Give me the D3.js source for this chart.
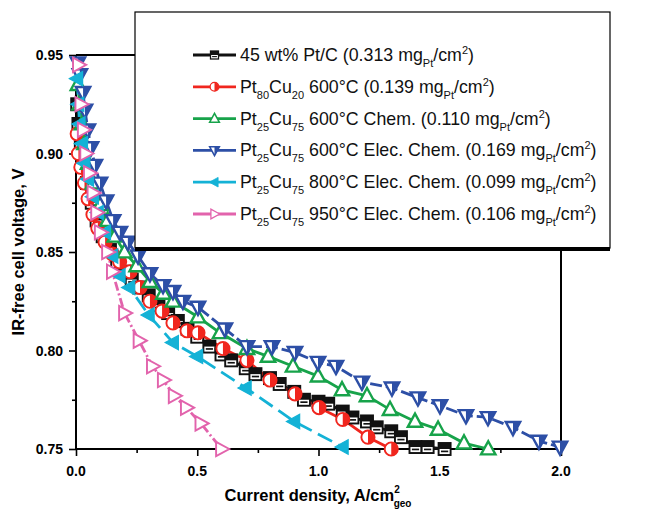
<!DOCTYPE html>
<html>
<head>
<meta charset="utf-8">
<script src="https://cdn.jsdelivr.net/npm/d3@7"></script>
<style>
  body { margin: 0; background: #fff; }
  svg { font-family: "Liberation Sans", Arial, sans-serif; }
</style>
</head>
<body>
<svg id="chart" width="647" height="512"></svg>
<script>
// current density (A/cm2) vs IR-free voltage (V)
const ptc = [[0.005,0.925],[0.01,0.915],[0.02,0.905],[0.03,0.895],[0.045,0.885],[0.065,0.875],[0.085,0.866],[0.11,0.858],[0.14,0.851],[0.17,0.845],[0.20,0.840],[0.23,0.836],[0.26,0.832],[0.30,0.828],[0.34,0.823],[0.38,0.819],[0.42,0.815],[0.46,0.811],[0.50,0.807],[0.55,0.802],[0.60,0.798],[0.64,0.795],[0.70,0.791],[0.74,0.788],[0.80,0.786],[0.84,0.783],[0.90,0.779],[0.94,0.775],[1.00,0.774],[1.04,0.773],[1.10,0.769],[1.14,0.766],[1.20,0.764],[1.24,0.761],[1.30,0.759],[1.34,0.756],[1.40,0.751],[1.45,0.751],[1.52,0.750]];
const pt80 = [[0.005,0.91],[0.01,0.90],[0.02,0.893],[0.035,0.885],[0.05,0.877],[0.07,0.869],[0.09,0.862],[0.12,0.855],[0.15,0.849],[0.18,0.845],[0.223,0.840],[0.264,0.832],[0.305,0.825],[0.355,0.820],[0.40,0.814],[0.458,0.810],[0.503,0.809],[0.606,0.801],[0.705,0.795],[0.80,0.785],[0.903,0.778],[1.002,0.771],[1.10,0.765],[1.204,0.756],[1.30,0.750]];
const chem600 = [[0.008,0.935],[0.015,0.925],[0.025,0.915],[0.035,0.905],[0.05,0.895],[0.07,0.885],[0.10,0.874],[0.13,0.866],[0.16,0.858],[0.20,0.850],[0.25,0.843],[0.305,0.835],[0.36,0.829],[0.40,0.825],[0.503,0.817],[0.594,0.809],[0.705,0.801],[0.792,0.797],[0.895,0.792],[0.998,0.787],[1.097,0.780],[1.20,0.777],[1.295,0.770],[1.398,0.764],[1.493,0.760],[1.60,0.753],[1.70,0.750]];
const elec600 = [[0.008,0.946],[0.016,0.940],[0.029,0.931],[0.037,0.922],[0.049,0.912],[0.062,0.903],[0.078,0.894],[0.099,0.885],[0.124,0.876],[0.153,0.866],[0.181,0.860],[0.214,0.855],[0.256,0.848],[0.305,0.839],[0.359,0.833],[0.40,0.830],[0.441,0.825],[0.503,0.822],[0.614,0.811],[0.705,0.802],[0.808,0.802],[0.903,0.799],[0.998,0.794],[1.072,0.792],[1.179,0.784],[1.303,0.781],[1.41,0.776],[1.501,0.772],[1.608,0.767],[1.699,0.766],[1.802,0.761],[1.909,0.754],[1.996,0.751]];
const elec800 = [[0.005,0.938],[0.01,0.925],[0.015,0.915],[0.025,0.905],[0.035,0.895],[0.05,0.887],[0.07,0.878],[0.09,0.870],[0.12,0.860],[0.15,0.848],[0.18,0.838],[0.22,0.832],[0.30,0.818],[0.40,0.804],[0.50,0.797],[0.70,0.781],[0.90,0.764],[1.10,0.751]];
const elec950 = [[0.01,0.945],[0.02,0.925],[0.03,0.912],[0.04,0.900],[0.055,0.890],[0.07,0.880],[0.085,0.870],[0.10,0.860],[0.13,0.850],[0.15,0.840],[0.20,0.819],[0.26,0.805],[0.315,0.792],[0.36,0.785],[0.405,0.777],[0.455,0.771],[0.515,0.763],[0.60,0.750]];

const xTicks = [0.0, 0.5, 1.0, 1.5, 2.0];
const yTicks = [0.75, 0.80, 0.85, 0.90, 0.95];

// legend labels: [text, "sub" | "sup" | ""]
const legendLabels = [
	[["45 wt% Pt/C (0.313 mg",""],["Pt","sub"],["/cm",""],["2","sup"],[")",""]],
	[["Pt",""],["80","sub"],["Cu",""],["20","sub"],[" 600°C (0.139 mg",""],["Pt","sub"],["/cm",""],["2","sup"],[")",""]],
	[["Pt",""],["25","sub"],["Cu",""],["75","sub"],[" 600°C Chem. (0.110 mg",""],["Pt","sub"],["/cm",""],["2","sup"],[")",""]],
	[["Pt",""],["25","sub"],["Cu",""],["75","sub"],[" 600°C Elec. Chem. (0.169 mg",""],["Pt","sub"],["/cm",""],["2","sup"],[")",""]],
	[["Pt",""],["25","sub"],["Cu",""],["75","sub"],[" 800°C Elec. Chem. (0.099 mg",""],["Pt","sub"],["/cm",""],["2","sup"],[")",""]],
	[["Pt",""],["25","sub"],["Cu",""],["75","sub"],[" 950°C Elec. Chem. (0.106 mg",""],["Pt","sub"],["/cm",""],["2","sup"],[")",""]]
];

const series = [
	{ data: ptc,     color: "#111111", marker: "square", dash: null },
	{ data: pt80,    color: "#f0261e", marker: "circle", dash: null },
	{ data: chem600, color: "#17a34a", marker: "up",     dash: null },
	{ data: elec600, color: "#2d4fa6", marker: "down",   dash: "12,4" },
	{ data: elec800, color: "#14b2d6", marker: "left",   dash: "16,7" },
	{ data: elec950, color: "#e263ac", marker: "right",  dash: "9,3,2,3" }
];

const svg = d3.select("#chart");
const x = d3.scaleLinear().domain([0, 2]).range([76, 561]);
const y = d3.scaleLinear().domain([0.75, 0.95]).range([449, 55]);

// axes
const xAxis = svg.append("g").attr("transform", `translate(0, ${y(0.75)})`)
	.call(d3.axisBottom(x).tickValues(d3.range(0, 2.01, 0.25)).tickSize(5).tickFormat(""));
xAxis.selectAll(".tick line").attr("y2", (d, i) => i % 2 ? 4 : 7);
const yAxis = svg.append("g").attr("transform", `translate(${x(0)}, 0)`)
	.call(d3.axisLeft(y).tickValues(d3.range(0.75, 0.951, 0.025)).tickSize(5).tickFormat(""));
yAxis.selectAll(".tick line").attr("x2", (d, i) => i % 2 ? -4 : -7);
svg.selectAll(".domain").remove();
svg.selectAll(".tick line").attr("stroke", "#000").attr("stroke-width", 1.6);

svg.selectAll(".xl").data(xTicks).enter().append("text")
	.attr("x", d => x(d)).attr("y", 476)
	.attr("text-anchor", "middle").attr("font-size", 14).attr("font-weight", "bold")
	.text(d => d.toFixed(1));
svg.selectAll(".yl").data(yTicks).enter().append("text")
	.attr("x", 63).attr("y", d => y(d) + 5)
	.attr("text-anchor", "end").attr("font-size", 14).attr("font-weight", "bold")
	.text(d => d.toFixed(2));

// frame
const frame = svg.append("g").attr("stroke", "#000").attr("stroke-width", 2).attr("fill", "none");
frame.append("line").attr("x1", x(0)).attr("x2", x(0)).attr("y1", y(0.95)).attr("y2", y(0.75));
frame.append("line").attr("x1", x(0)).attr("x2", x(2)).attr("y1", y(0.75)).attr("y2", y(0.75));
frame.append("line").attr("x1", x(2)).attr("x2", x(2)).attr("y1", y(0.95)).attr("y2", y(0.75));
frame.append("line").attr("x1", x(0)).attr("x2", x(2)).attr("y1", y(0.95)).attr("y2", y(0.95));

// titles
svg.append("text")
	.attr("transform", `translate(24, ${(y(0.75) + y(0.95)) / 2}) rotate(-90)`)
	.attr("text-anchor", "middle").attr("font-size", 16.5).attr("font-weight", "bold")
	.text("IR-free cell voltage, V");
const xt = svg.append("text").attr("x", 318).attr("y", 501)
	.attr("text-anchor", "middle").attr("font-size", 16.5).attr("font-weight", "bold");
xt.append("tspan").text("Current density, A/cm");
xt.append("tspan").attr("font-size", 10).attr("dy", -8).text("2");
xt.append("tspan").attr("font-size", 10).attr("dx", -6).attr("dy", 14).text("geo");

function drawMarker(g, type, color) {
	const sw = 1.6;
	if (type === "square") {
		g.append("rect").attr("x", -5).attr("y", -5).attr("width", 10).attr("height", 10)
			.attr("fill", "#fff").attr("stroke", color).attr("stroke-width", sw);
		g.append("rect").attr("x", -5).attr("y", -5).attr("width", 10).attr("height", 5).attr("fill", color);
		g.append("line").attr("x1", -3).attr("x2", 3).attr("y1", 2).attr("y2", 2).attr("stroke", color).attr("stroke-width", 1.4);
	} else if (type === "circle") {
		g.append("circle").attr("r", 5.5).attr("fill", "#fff").attr("stroke", color).attr("stroke-width", sw);
		g.append("path").attr("d", "M0,-5.5A5.5,5.5 0 0 1 0,5.5Z").attr("fill", color);
	} else if (type === "up") {
		g.append("path").attr("d", "M0,-6.5L6,4.5L-6,4.5Z").attr("fill", "#fff").attr("stroke", color).attr("stroke-width", 2);
	} else if (type === "down") {
		g.append("path").attr("d", "M0,6.5L6,-4.5L-6,-4.5Z").attr("fill", "#fff").attr("stroke", color).attr("stroke-width", 2);
		g.append("path").attr("d", "M0,6.5L6,-4.5L0,-4.5Z").attr("fill", color);
	} else if (type === "left") {
		g.append("path").attr("d", "M-6.5,0L4.5,-6L4.5,6Z").attr("fill", color).attr("stroke", color).attr("stroke-width", 1);
	} else if (type === "right") {
		g.append("path").attr("d", "M6.5,0L-4.5,-6L-4.5,6Z").attr("fill", "#fff").attr("stroke", color).attr("stroke-width", 1.6);
	}
}

const line = d3.line().x(d => x(d[0])).y(d => y(d[1]));
const plot = svg.append("g");
series.forEach(s => {
	plot.append("path").datum(s.data).attr("d", line)
		.attr("fill", "none").attr("stroke", s.color).attr("stroke-width", 2.8)
		.attr("stroke-dasharray", s.dash);
});
series.forEach(s => {
	s.data.forEach(d => {
		const g = plot.append("g").attr("transform", `translate(${x(d[0])}, ${y(d[1])}) scale(1.2)`);
		drawMarker(g, s.marker, s.color);
	});
});

// legend
const lg = svg.append("g");
lg.append("rect").attr("x", 135).attr("y", 12).attr("width", 475).attr("height", 236)
	.attr("fill", "#fff").attr("stroke", "#000").attr("stroke-width", 1.2);
lg.append("line").attr("x1", 135).attr("x2", 610).attr("y1", 249).attr("y2", 249)
	.attr("stroke", "#000").attr("stroke-width", 4);
series.forEach((s, i) => {
	const cy = 55 + i * 31.8;
	lg.append("line").attr("x1", 193).attr("x2", 236).attr("y1", cy).attr("y2", cy)
		.attr("stroke", s.color).attr("stroke-width", 2.8);
	const mg = lg.append("g").attr("transform", `translate(214.5, ${cy}) scale(0.8)`);
	drawMarker(mg, s.marker, s.color);
	const t = lg.append("text").attr("x", 240).attr("y", cy + 6).attr("font-size", 17.8).attr("fill", "#111");
	let shift = 0;
	legendLabels[i].forEach(([txt, kind]) => {
		const sp = t.append("tspan").text(txt);
		let target = kind === "sub" ? 6 : kind === "sup" ? -7 : 0;
		if (kind) sp.attr("font-size", 11);
		sp.attr("dy", target - shift);
		shift = target;
	});
});
</script>
</body>
</html>
